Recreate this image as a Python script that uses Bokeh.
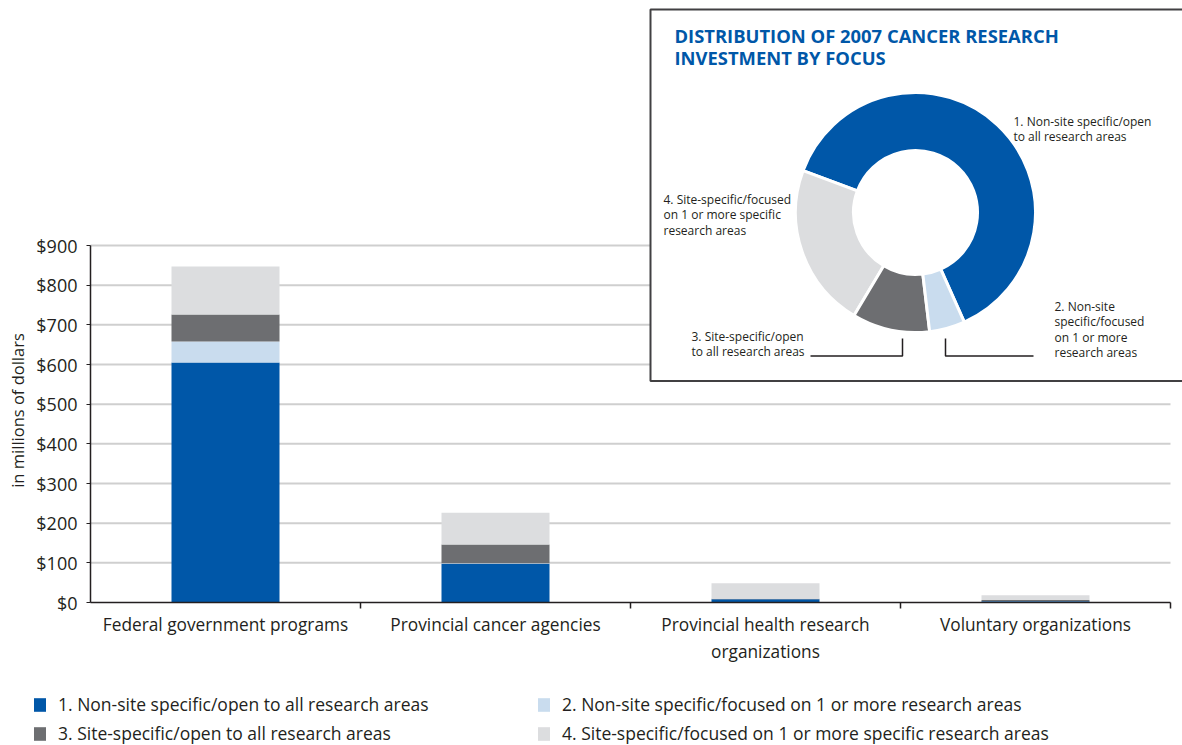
import numpy as np
from bokeh.plotting import figure
from bokeh.models import (Range1d, FixedTicker, NumeralTickFormatter, Legend,
                          LegendItem, Label)
from bokeh.embed import file_html
from bokeh.resources import INLINE
from bokeh.core.properties import value

# ---------------- data ----------------
categories = ["Federal government programs", "Provincial cancer agencies",
              "Provincial health research\norganizations", "Voluntary organizations"]
series_names = ["1. Non-site specific/open to all research areas",
                "2. Non-site specific/focused on 1 or more research areas",
                "3. Site-specific/open to all research areas",
                "4. Site-specific/focused on 1 or more specific research areas"]
nonsite_open = [605, 98, 8, 3]
nonsite_focused = [53, 1, 0.5, 0]
site_open = [68, 47, 1, 3]
site_focused = [121, 80, 39, 12]
y_ticks = [0, 100, 200, 300, 400, 500, 600, 700, 800, 900]
y_title = "in millions of dollars"
donut_title = "DISTRIBUTION OF 2007 CANCER RESEARCH\nINVESTMENT BY FOCUS"
donut_labels = ["1. Non-site specific/open\nto all research areas",
                "2. Non-site\nspecific/focused\non 1 or more\nresearch areas",
                "3. Site-specific/open\nto all research areas",
                "4. Site-specific/focused\non 1 or more specific\nresearch areas"]

colors = ["#0057a8", "#c9dcee", "#6d6e71", "#dcdddf"]
FONT = "Open Sans"
TXT = "#231f20"

# ---------------- layout constants (page px) ----------------
W, H = 1182, 745
X0 = 90          # page x of the value axis
Y0 = 602         # page y of the category axis
cat_px = 270.0   # width of one category slot
ymax_px = 357.0  # height of the 0..900 span
ncat = len(categories)
xs = [i + 0.5 for i in range(ncat)]
ppu = ymax_px / y_ticks[-1]

p = figure(width=W, height=H, output_backend="svg", toolbar_location=None,
           x_range=Range1d(-X0 / cat_px, (W - X0) / cat_px),
           y_range=Range1d(-(H - Y0) / ppu, Y0 / ppu),
           min_border_left=0, min_border_right=0, min_border_top=0,
           min_border_bottom=0)
p.outline_line_color = None
p.background_fill_color = "white"
p.grid.visible = False

# horizontal gridlines spanning only the category area
gl = y_ticks[1:]
p.segment(x0=[0] * len(gl), x1=[ncat] * len(gl), y0=gl, y1=gl,
          line_color="#cfcfcf", line_width=2, level="underlay")

src = dict(x=xs, s1=nonsite_open, s2=nonsite_focused, s3=site_open, s4=site_focused)
rs = p.vbar_stack(["s1", "s2", "s3", "s4"], x="x", width=0.4, color=colors,
                  line_color=None, source=src)

# y axis (drawn at x = 0, inside the canvas)
p.yaxis.fixed_location = 0
p.yaxis.ticker = FixedTicker(ticks=y_ticks)
p.yaxis.bounds = (y_ticks[0], y_ticks[-1])
p.yaxis.formatter = NumeralTickFormatter(format="$0,0")
p.yaxis.axis_line_color = TXT
p.yaxis.axis_line_width = 1.5
p.yaxis.major_tick_in = 0
p.yaxis.major_tick_out = 4
p.yaxis.major_tick_line_color = TXT
p.yaxis.minor_tick_line_color = None
p.yaxis.major_label_standoff = 9
p.yaxis.major_label_text_font = FONT
p.yaxis.major_label_text_font_size = "18px"
p.yaxis.major_label_text_color = TXT

# x axis (drawn at y = 0)
p.xaxis.fixed_location = 0
p.xaxis.ticker = FixedTicker(ticks=xs, minor_ticks=list(range(1, ncat + 1)))
p.xaxis.major_label_overrides = {x: c for x, c in zip(xs, categories)}
p.xaxis.bounds = (0, ncat)
p.xaxis.axis_line_color = TXT
p.xaxis.axis_line_width = 1.5
p.xaxis.major_tick_line_color = None
p.xaxis.major_tick_in = 0
p.xaxis.major_tick_out = 0
p.xaxis.minor_tick_in = 0
p.xaxis.minor_tick_out = 6
p.xaxis.minor_tick_line_color = TXT
p.xaxis.minor_tick_line_width = 1.5
p.xaxis.major_label_standoff = 4
p.xaxis.major_label_text_font = FONT
p.xaxis.major_label_text_font_size = "17.3px"
p.xaxis.major_label_text_color = TXT

# ---------------- page pixel ranges for inset and labels ----------------
p.extra_x_ranges = {"px": Range1d(0, W)}
p.extra_y_ranges = {"py": Range1d(H, 0)}
R = dict(x_range_name="px", y_range_name="py")

p.add_layout(Label(x=17, y=410, text=y_title, angle=np.pi / 2,
                   text_align="center", text_baseline="middle",
                   text_font=FONT, text_font_size="16.5px", text_color=TXT, **R))

# legend
items = [LegendItem(label=n, renderers=[r]) for n, r in zip(series_names, rs)]
leg = Legend(items=items, orientation="horizontal", ncols=2,
             location=(32, 0), glyph_width=15, glyph_height=17,
             label_standoff=11, label_width=473, label_height=24, spacing=5,
             padding=0, margin=0, border_line_color=None,
             background_fill_alpha=0, label_text_font=FONT,
             label_text_font_size="17.5px", label_text_color=TXT)
p.add_layout(leg)

# donut inset box
p.quad(left=650, right=1300, top=9, bottom=380.5, fill_color="white",
       line_color="#414042", line_width=2, **R)

totals = [sum(s) for s in (nonsite_open, nonsite_focused, site_open, site_focused)]
total = float(sum(totals))
order = [0, 3, 2, 1]  # anticlockwise from the start of slice 1
start = np.deg2rad(-66)
starts, ends, cols = [], [], []
a = start
for k in order:
    span = 2 * np.pi * totals[k] / total
    starts.append(a)
    ends.append(a + span)
    cols.append(colors[k])
    a += span
cx, cy = 915, 212
p.annular_wedge(x=[cx] * 4, y=[cy] * 4, inner_radius=62, outer_radius=120,
                inner_radius_units="screen", outer_radius_units="screen",
                start_angle=starts, end_angle=ends, direction="anticlock",
                fill_color=cols, line_color="white", line_width=3, **R)

p.text(x=[674], y=[22], text=[donut_title], text_font=value(FONT),
       text_font_style="bold", text_font_size="18.4px", text_color="#0057a8",
       text_baseline="top", text_line_height=0.88, **R)

lab_x = [1013, 1054, 691, 663]
lab_y = [112, 297, 327, 190]
p.text(x=lab_x, y=lab_y, text=donut_labels, text_font=value(FONT),
       text_font_size="12px", text_color=TXT, text_baseline="top",
       text_line_height=0.92, **R)

p.line(x=[810, 902, 902], y=[355.5, 355.5, 338], line_color=TXT, line_width=1.5, **R)
p.line(x=[945, 945, 1033], y=[338, 355.5, 355.5], line_color=TXT, line_width=1.5, **R)

open("out.html", "w").write(file_html(p, INLINE))
